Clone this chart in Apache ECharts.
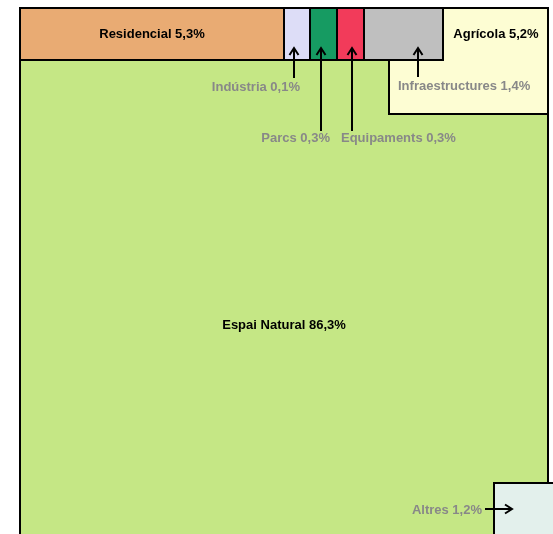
<!DOCTYPE html>
<html><head><meta charset="utf-8">
<script src="https://cdn.jsdelivr.net/npm/echarts@6/dist/echarts.min.js"></script>
<style>html,body{margin:0;padding:0;background:#fff}#c{width:553px;height:534px}</style>
</head><body><div id="c"></div>
<script>
// ---- data ----
const categories = ['Espai Natural','Agrícola','Residencial','Indústria','Parcs','Equipaments','Infraestructures','Altres'];
const values = [86.3, 5.2, 5.3, 0.1, 0.3, 0.3, 1.4, 1.2];
// cell extents in chart units (layout of the area diagram)
const cellX0 = [0,   369, 0,   264, 290, 317, 344, 474];
const cellX1 = [528, 528, 264, 290, 317, 344, 423, 540];
const cellY0 = [0,   0,   0,   0,   0,   0,   0,   475];
const cellY1 = [560, 106, 52,  52,  52,  52,  52,  560];
// label anchors (chart units) and arrows
const labelX = [264, 476, 132, 280, 310, 321, 378, 462];
const labelY = [317, 26,  26,  79,  130, 130, 78,  502];
const labelAlign = ['center','center','center','right','right','left','left','right'];
const labelInside = [true, true, true, false, false, false, false, false];
const arrowFrom = [[274,70],[301,123],[332,123],[398,69],[465,501]];
const arrowTo   = [[274,40],[301,40],[332,40],[398,40],[492,501]];
// ---- styles ----
const colors = ['#C5E785','#FDFDD3','#E9AB73','#DDDDF7','#169B62','#F23B5A','#BFBFBF','#E3F0EC'];

const fmt = (n, v) => n + ' ' + v.toFixed(1).replace('.', ',') + '%';

const cellData = categories.map((c, i) => [cellX0[i], cellY0[i], cellX1[i], cellY1[i], i]);
const labelData = categories.map((c, i) => [labelX[i], labelY[i], i]);
const arrowData = arrowFrom.map((f, i) => [f[0], f[1], arrowTo[i][0], arrowTo[i][1]]);

const chart = echarts.init(document.getElementById('c'), null, {renderer: 'canvas'});
chart.setOption({
  animation: false,
  grid: {left: 20, top: 8, right: 5, bottom: 0, containLabel: false},
  xAxis: {type: 'value', min: 0, max: 528, show: false},
  yAxis: {type: 'value', min: 0, max: 526, inverse: true, show: false},
  series: [
    {
      type: 'custom', clip: false, data: cellData,
      encode: {x: [0, 2], y: [1, 3]},
      renderItem: function (params, api) {
        const p0 = api.coord([api.value(0), api.value(1)]);
        const p1 = api.coord([api.value(2), api.value(3)]);
        const i = api.value(4);
        return {
          type: 'rect',
          shape: {x: p0[0], y: p0[1], width: p1[0] - p0[0], height: p1[1] - p0[1]},
          style: {fill: colors[i], stroke: '#000', lineWidth: 2}
        };
      },
      z: 1
    },
    {
      type: 'custom', clip: false, data: arrowData,
      encode: {x: [0, 2], y: [1, 3]},
      renderItem: function (params, api) {
        const a = api.coord([api.value(0), api.value(1)]);
        const b = api.coord([api.value(2), api.value(3)]);
        const dx = b[0] - a[0], dy = b[1] - a[1];
        const L = Math.sqrt(dx * dx + dy * dy);
        const ux = dx / L, uy = dy / L;
        const hl = 7, hw = 4.5;
        const h1 = [b[0] - ux * hl - uy * hw, b[1] - uy * hl + ux * hw];
        const h2 = [b[0] - ux * hl + uy * hw, b[1] - uy * hl - ux * hw];
        return {
          type: 'group',
          children: [
            {type: 'line', shape: {x1: a[0], y1: a[1], x2: b[0], y2: b[1]}, style: {stroke: '#000', lineWidth: 2}},
            {type: 'polyline', shape: {points: [h1, b, h2]}, style: {stroke: '#000', lineWidth: 2, fill: null}}
          ]
        };
      },
      z: 3
    },
    {
      type: 'custom', clip: false, data: labelData,
      encode: {x: 0, y: 1},
      renderItem: function (params, api) {
        const p = api.coord([api.value(0), api.value(1)]);
        const i = api.value(2);
        return {
          type: 'text',
          x: p[0], y: p[1],
          style: {
            text: fmt(categories[i], values[i]),
            fill: labelInside[i] ? '#000' : '#888888',
            font: 'bold 13px "Liberation Sans", Arial, sans-serif',
            align: labelAlign[i], verticalAlign: 'middle'
          }
        };
      },
      z: 4
    }
  ]
});
</script></body></html>
